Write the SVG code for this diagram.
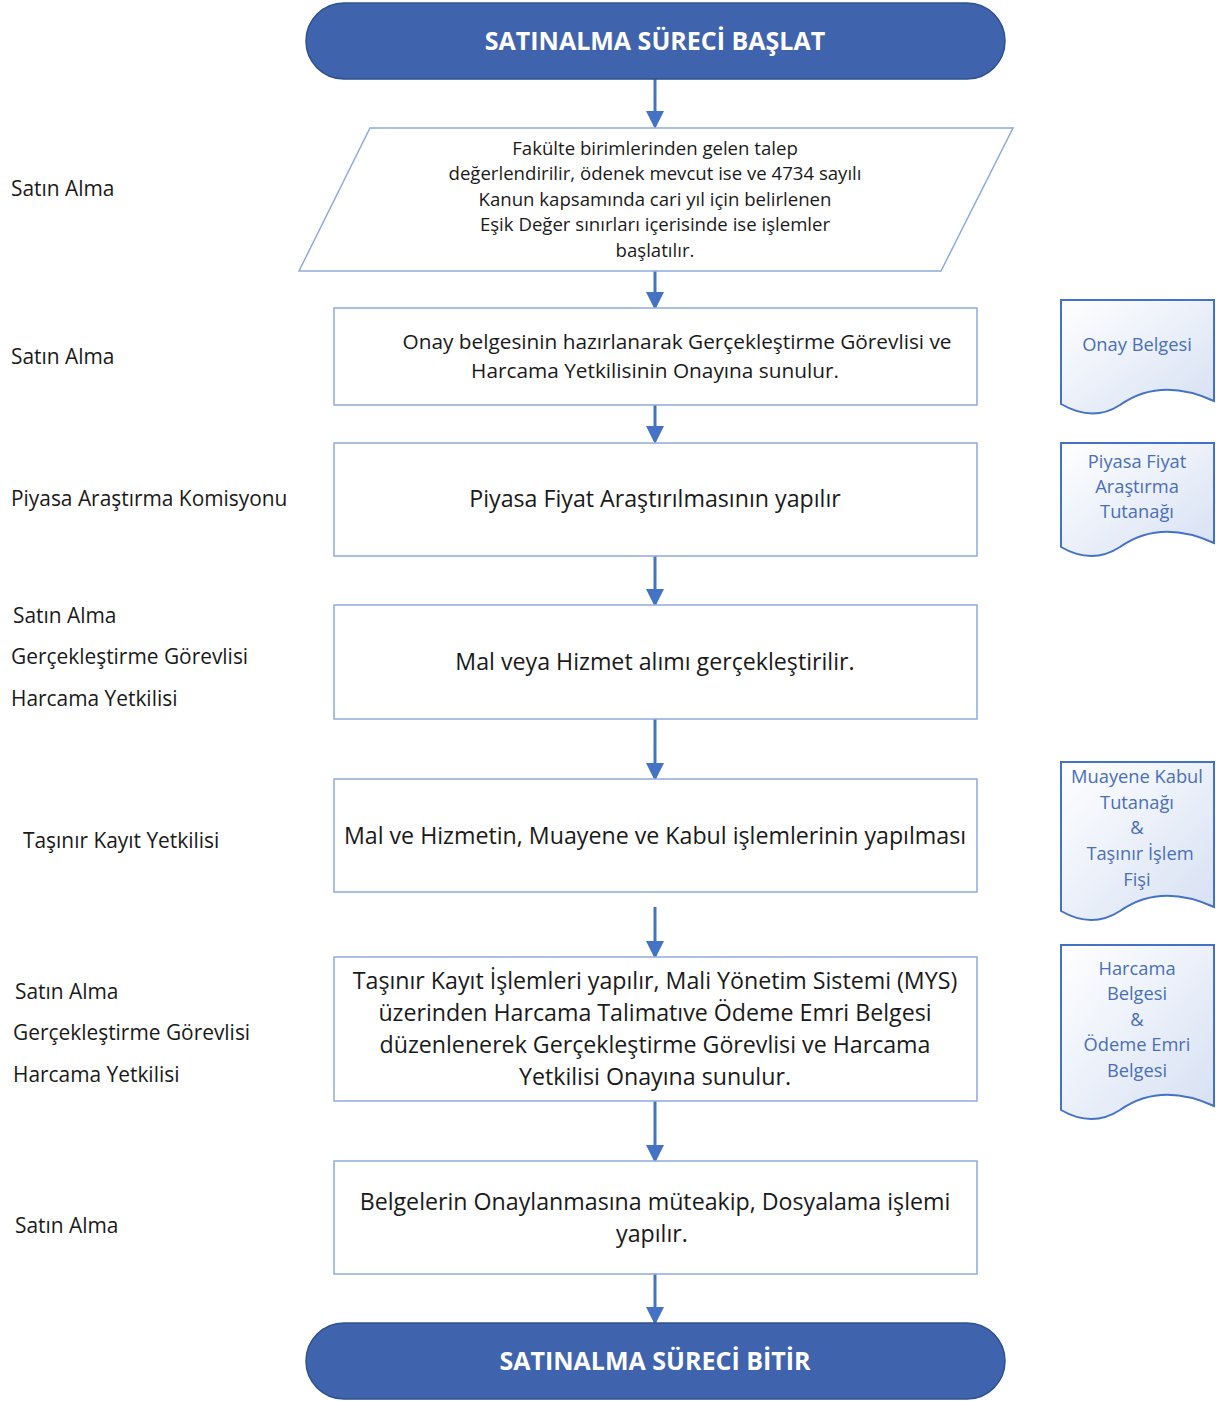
<svg xmlns="http://www.w3.org/2000/svg" width="1216" height="1401" viewBox="0 0 1216 1401">
<defs>
<linearGradient id="docg" x1="0" y1="0" x2="1" y2="1">
<stop offset="0" stop-color="#ffffff"/>
<stop offset="1" stop-color="#d6e0f3"/>
</linearGradient>
<marker id="ah" markerWidth="6" markerHeight="6" refX="5" refY="3" orient="auto" markerUnits="strokeWidth">
<path d="M0,0 L6,3 L0,6 Z" fill="#4472c4"/>
</marker>
<style>
.term{fill:#3f64ad;stroke:#2f528f;stroke-width:1.5}
.termt{font-family:"Open Sans","Noto Sans",sans-serif;font-weight:bold;font-size:25px;fill:#ffffff;text-anchor:middle}
.box{fill:#ffffff;stroke:#8faadc;stroke-width:1.5}
.bt{font-family:"Open Sans","Noto Sans",sans-serif;fill:#1a1a1a;text-anchor:middle}
.lab{font-family:"Open Sans","Noto Sans",sans-serif;font-size:20.9px;fill:#1a1a1a}
.doc{fill:url(#docg);stroke:#4472c4;stroke-width:2}
.dt{font-family:"Open Sans","Noto Sans",sans-serif;font-size:18.3px;fill:#4a6fb8;text-anchor:middle}
.con{stroke:#4472c4;stroke-width:3;fill:none;marker-end:url(#ah)}
</style>
</defs>
<g id="connectors">
<line class="con" x1="655" y1="79" x2="655" y2="126"/>
<line class="con" x1="655" y1="271" x2="655" y2="307"/>
<line class="con" x1="655" y1="405" x2="655" y2="441"/>
<line class="con" x1="655" y1="556" x2="655" y2="604"/>
<line class="con" x1="655" y1="719" x2="655" y2="778"/>
<line class="con" x1="655" y1="907" x2="655" y2="956"/>
<line class="con" x1="655" y1="1101" x2="655" y2="1160"/>
<line class="con" x1="655" y1="1274" x2="655" y2="1322"/>
</g>
<g id="start">
<rect class="term" x="306" y="3" width="699" height="76" rx="38"/>
<text class="termt" x="655" y="50">SATINALMA SÜRECİ BAŞLAT</text>
</g>
<g id="n1">
<polygon class="box" points="370,128 1013,128 941,271 299,271"/>
<text class="bt" font-size="18.6" x="655" y="155">Fakülte birimlerinden gelen talep</text>
<text class="bt" font-size="18.6" x="655" y="180">değerlendirilir, ödenek mevcut ise ve 4734 sayılı</text>
<text class="bt" font-size="18.6" x="655" y="206">Kanun kapsamında cari yıl için belirlenen</text>
<text class="bt" font-size="18.6" x="655" y="231">Eşik Değer sınırları içerisinde ise işlemler</text>
<text class="bt" font-size="18.6" x="655" y="257">başlatılır.</text>
</g>
<g id="n2">
<rect class="box" x="334" y="308" width="643" height="97"/>
<text class="bt" font-size="20.8" x="677" y="349">Onay belgesinin hazırlanarak Gerçekleştirme Görevlisi ve</text>
<text class="bt" font-size="20.8" x="655" y="378">Harcama Yetkilisinin Onayına sunulur.</text>
</g>
<g id="n3">
<rect class="box" x="334" y="443" width="643" height="113"/>
<text class="bt" font-size="23.2" x="655" y="507">Piyasa Fiyat Araştırılmasının yapılır</text>
</g>
<g id="n4">
<rect class="box" x="334" y="605" width="643" height="114"/>
<text class="bt" font-size="23.2" x="655" y="670">Mal veya Hizmet alımı gerçekleştirilir.</text>
</g>
<g id="n5">
<rect class="box" x="334" y="779" width="643" height="113"/>
<text class="bt" font-size="23.2" x="655" y="844">Mal ve Hizmetin, Muayene ve Kabul işlemlerinin yapılması</text>
</g>
<g id="n6">
<rect class="box" x="334" y="957" width="643" height="144"/>
<text class="bt" font-size="23.2" x="655" y="989">Taşınır Kayıt İşlemleri yapılır, Mali Yönetim Sistemi (MYS)</text>
<text class="bt" font-size="23.2" x="655" y="1021">üzerinden Harcama Talimatıve Ödeme Emri Belgesi</text>
<text class="bt" font-size="23.2" x="655" y="1053">düzenlenerek Gerçekleştirme Görevlisi ve Harcama</text>
<text class="bt" font-size="23.2" x="655" y="1085">Yetkilisi Onayına sunulur.</text>
</g>
<g id="n7">
<rect class="box" x="334" y="1161" width="643" height="113"/>
<text class="bt" font-size="23.2" x="655" y="1210">Belgelerin Onaylanmasına müteakip, Dosyalama işlemi</text>
<text class="bt" font-size="23.2" x="652" y="1242">yapılır.</text>
</g>
<g id="end">
<rect class="term" x="306" y="1323" width="699" height="76" rx="38"/>
<text class="termt" x="655" y="1370">SATINALMA SÜRECİ BİTİR</text>
</g>
<g id="d1">
<path class="doc" d="M1061,300 H1214 V401 C1170,381 1140,391 1120,405 C1100,418 1080,415 1061,404 Z"/>
<text class="dt" x="1137" y="351">Onay Belgesi</text>
</g>
<g id="d2">
<path class="doc" d="M1061,443 H1214 V543 C1170,523 1140,533 1120,547 C1100,560 1080,558 1061,547 Z"/>
<text class="dt" x="1137" y="468">Piyasa Fiyat</text>
<text class="dt" x="1137" y="493">Araştırma</text>
<text class="dt" x="1137" y="518">Tutanağı</text>
</g>
<g id="d3">
<path class="doc" d="M1061,762 H1214 V907 C1170,887 1140,897 1120,911 C1100,924 1080,922 1061,911 Z"/>
<text class="dt" x="1137" y="783">Muayene Kabul</text>
<text class="dt" x="1137" y="809">Tutanağı</text>
<text class="dt" x="1137" y="834">&amp;</text>
<text class="dt" x="1140" y="860">Taşınır İşlem</text>
<text class="dt" x="1137" y="886">Fişi</text>
</g>
<g id="d4">
<path class="doc" d="M1061,945 H1214 V1106 C1170,1086 1140,1096 1120,1110 C1100,1123 1080,1121 1061,1110 Z"/>
<text class="dt" x="1137" y="975">Harcama</text>
<text class="dt" x="1137" y="1000">Belgesi</text>
<text class="dt" x="1137" y="1026">&amp;</text>
<text class="dt" x="1137" y="1051">Ödeme Emri</text>
<text class="dt" x="1137" y="1077">Belgesi</text>
</g>
<g id="labels">
<text class="lab" x="11" y="196">Satın Alma</text>
<text class="lab" x="11" y="364">Satın Alma</text>
<text class="lab" x="11" y="506">Piyasa Araştırma Komisyonu</text>
<text class="lab" x="13" y="623">Satın Alma</text>
<text class="lab" x="11" y="664">Gerçekleştirme Görevlisi</text>
<text class="lab" x="11" y="706">Harcama Yetkilisi</text>
<text class="lab" x="23" y="848">Taşınır Kayıt Yetkilisi</text>
<text class="lab" x="15" y="999">Satın Alma</text>
<text class="lab" x="13" y="1040">Gerçekleştirme Görevlisi</text>
<text class="lab" x="13" y="1082">Harcama Yetkilisi</text>
<text class="lab" x="15" y="1233">Satın Alma</text>
</g>
</svg>
